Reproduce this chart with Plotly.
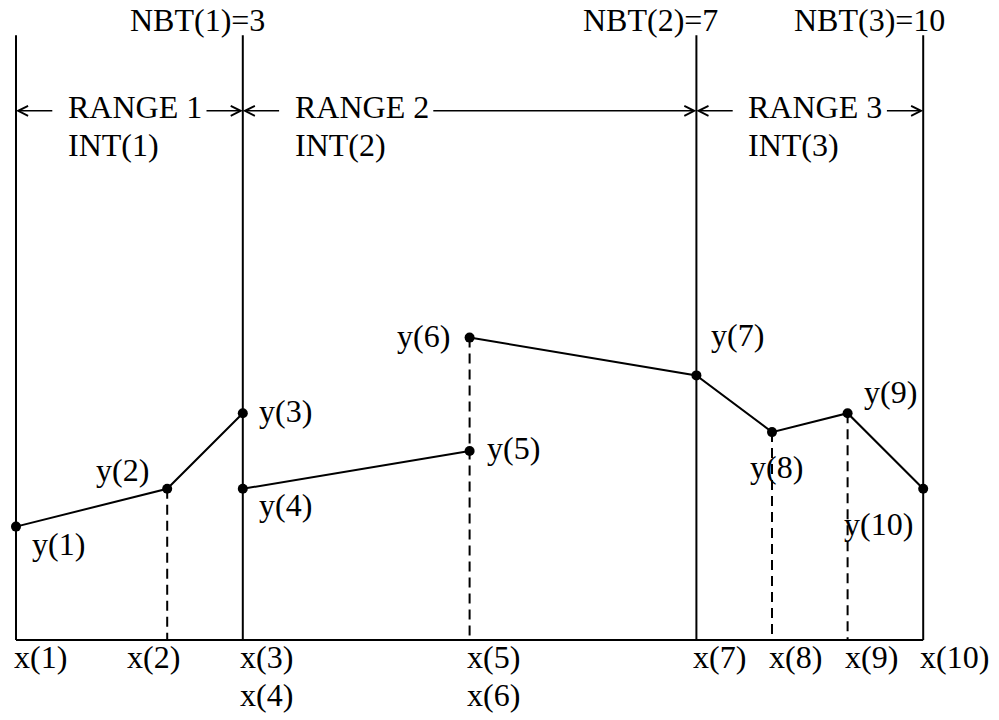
import plotly.graph_objects as go

# data (x in grid units, y in grid units)
x_pts = [0, 2, 3, 3, 6, 6, 9, 10, 11, 12]
y_pts = [1.5, 2.0, 3.0, 2.0, 2.5, 4.0, 3.5, 2.75, 3.0, 2.0]
x_labels = ["x(1)", "x(2)", "x(3)", "x(4)", "x(5)", "x(6)", "x(7)", "x(8)", "x(9)", "x(10)"]
y_labels = ["y(1)", "y(2)", "y(3)", "y(4)", "y(5)", "y(6)", "y(7)", "y(8)", "y(9)", "y(10)"]
nbt = [3, 7, 10]
nbt_labels = ["NBT(1)=3", "NBT(2)=7", "NBT(3)=10"]
range_labels = ["RANGE 1", "RANGE 2", "RANGE 3"]
int_labels = ["INT(1)", "INT(2)", "INT(3)"]
top_y = 8.0
arrow_y = 7.0

# label placement in screen px: (dx, dy down, anchor)
y_lab_pos = [(14, 20, "left"), (-16, -16, "right"), (14, 1, "left"), (14, 19, "left"),
             (15, 0, "left"), (-18, 1, "right"), (13, -37, "left"), (-24, 38, "left"),
             (14, -18, "left"), (-8, 38, "right")]
x_lab_dx = [-4, -42, -5, -5, -5, -5, -5, -5, -5, -5]

PX = 75.6
FONT = dict(family="Liberation Serif, Times New Roman, serif", size=32, color="black")

fig = go.Figure()

# range boundaries
bnd_x = [x_pts[0]] + [x_pts[n - 1] for n in nbt]
vx, vy = [], []
for bx in bnd_x:
    vx += [bx, bx, None]
    vy += [0, top_y, None]
fig.add_trace(go.Scatter(x=vx, y=vy, mode="lines", line=dict(color="black", width=2),
                         hoverinfo="skip"))
fig.add_trace(go.Scatter(x=[bnd_x[0], bnd_x[-1]], y=[0, 0], mode="lines",
                         line=dict(color="black", width=2), hoverinfo="skip"))

# dashed drops at interior points
dx_, dy_ = [], []
for xv in sorted(set(x_pts)):
    if xv in bnd_x:
        continue
    ymax = max(y for x, y in zip(x_pts, y_pts) if x == xv)
    dx_ += [xv, xv, None]
    dy_ += [ymax, 0, None]
fig.add_trace(go.Scatter(x=dx_, y=dy_, mode="lines",
                         line=dict(color="black", width=2, dash="10px,6px"), hoverinfo="skip"))

# piecewise polyline, broken where x repeats
px, py = [], []
for i, (x, y) in enumerate(zip(x_pts, y_pts)):
    if i > 0 and x == x_pts[i - 1]:
        px.append(None)
        py.append(None)
    px.append(x)
    py.append(y)
fig.add_trace(go.Scatter(x=px, y=py, mode="lines+markers",
                         line=dict(color="black", width=2),
                         marker=dict(color="black", size=10), hoverinfo="skip"))

ann = []
# point labels
for x, y, lab, (ddx, ddy, anc) in zip(x_pts, y_pts, y_labels, y_lab_pos):
    ann.append(dict(x=x, y=y, text=lab, showarrow=False, xanchor=anc, yanchor="middle",
                    xshift=ddx, yshift=-ddy + 3, font=FONT))
# x labels
for i, (x, lab, ddx) in enumerate(zip(x_pts, x_labels, x_lab_dx)):
    row = 1 if i > 0 and x == x_pts[i - 1] else 0
    ann.append(dict(x=x, y=0, text=lab, showarrow=False, xanchor="left", yanchor="middle",
                    xshift=ddx, yshift=-20 - 38 * row + 3, font=FONT))
# NBT labels
for bx, lab in zip(bnd_x[1:], nbt_labels):
    ann.append(dict(x=bx, y=top_y, text=lab, showarrow=False, xanchor="right", yanchor="top",
                    xshift=24, yshift=640 - top_y * PX, font=FONT))
# ranges
for i, (r, it) in enumerate(zip(range_labels, int_labels)):
    x0, x1 = bnd_x[i], bnd_x[i + 1]
    ann.append(dict(x=x0, y=arrow_y, text=r, showarrow=False, xanchor="left", yanchor="bottom",
                    xshift=51, yshift=-15, borderpad=0, font=FONT))
    ann.append(dict(x=x0, y=arrow_y, text=it, showarrow=False, xanchor="left", yanchor="top",
                    xshift=51, yshift=-15, borderpad=0, font=FONT))
    for tip, tail in [(x0, x0 + 0.5), (x1, x0 + 2.5)]:
        ann.append(dict(x=tip, y=arrow_y, ax=tail, ay=arrow_y, axref="x", ayref="y",
                        text="", showarrow=True, arrowhead=5, arrowsize=1.3, arrowwidth=1.5,
                        arrowcolor="black", standoff=0))

fig.update_layout(
    width=999, height=720, autosize=False,
    margin=dict(l=0, r=0, t=0, b=0),
    paper_bgcolor="white", plot_bgcolor="white",
    showlegend=False, annotations=ann,
    xaxis=dict(range=[-16 / PX, 983 / PX], visible=False, fixedrange=True),
    yaxis=dict(range=[-80 / PX, 640 / PX], visible=False, fixedrange=True),
)

# drop the default page margin so the figure sits at the window's corner
fig.write_html("out.html", config={"displayModeBar": False},
               post_script="document.body.style.margin='0';")
